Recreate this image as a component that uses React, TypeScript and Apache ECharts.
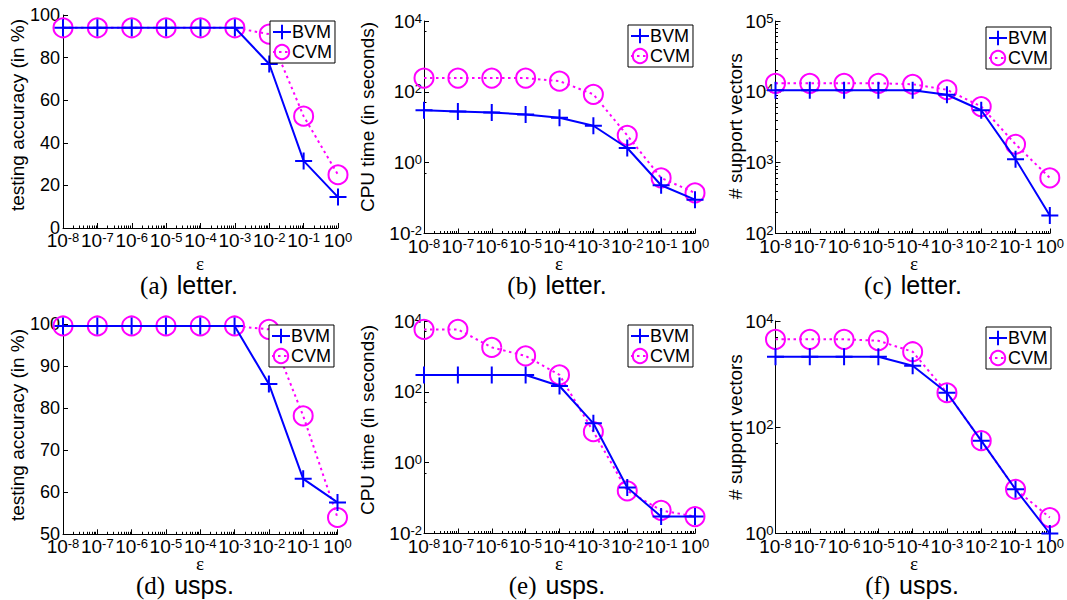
import React, { useEffect, useRef } from 'react';
import * as echarts from 'echarts';

const FONT = '"Liberation Sans", Arial, Helvetica, sans-serif';
const SERIF = '"Liberation Serif", "Times New Roman", serif';

// epsilon values (x axis, log scale)
const epsilons = [1e-8, 1e-7, 1e-6, 1e-5, 1e-4, 1e-3, 1e-2, 1e-1, 1];

// (a) letter: testing accuracy (%)
const accLetterBVM = [94, 94, 94, 94, 94, 94, 77, 31.5, 14.5];
const accLetterCVM = [94, 94, 94, 94, 94, 94, 91, 52.5, 25];
// (b) letter: CPU time (s)
const cpuLetterBVM = [30, 28, 26, 23, 18.6, 11, 2.6, 0.23, 0.09];
const cpuLetterCVM = [245, 245, 245, 245, 200, 85, 5.9, 0.37, 0.14];
// (c) letter: # support vectors
const svLetterBVM = [10500, 10500, 10500, 10500, 10500, 9100, 5500, 1120, 180];
const svLetterCVM = [13200, 13200, 13200, 13200, 12800, 10700, 6200, 1820, 610];
// (d) usps: testing accuracy (%)
const accUspsBVM = [99.6, 99.6, 99.6, 99.6, 99.6, 99.6, 85.8, 63.2, 57.6];
const accUspsCVM = [99.6, 99.6, 99.6, 99.6, 99.6, 99.6, 98.8, 78.2, 54.0];
// (e) usps: CPU time (s)
const cpuUspsBVM = [300, 300, 300, 300, 146, 12.9, 0.2, 0.03, 0.03];
const cpuUspsCVM = [5800, 5800, 1800, 1030, 300, 7.5, 0.16, 0.045, 0.03];
// (f) usps: # support vectors
const svUspsBVM = [2130, 2130, 2130, 2130, 1440, 446, 56, 6.8, 1.0];
const svUspsCVM = [4520, 4520, 4520, 4260, 2640, 446, 56, 6.8, 2.0];

const seriesNames = ['BVM', 'CVM'];
const yTitles = ['testing accuracy (in %)', 'CPU time (in seconds)', '# support vectors'];
const captionLetters = ['(a)', '(b)', '(c)', '(d)', '(e)', '(f)'];
const captionSets = ['letter.', 'letter.', 'letter.', 'usps.', 'usps.', 'usps.'];
const xTitle = 'ε';

type Panel = {
  grid: { left: number; top: number; width: number; height: number };
  log: boolean;
  yMin: number;
  yMax: number;
  yInterval: number;
  bvm: number[];
  cvm: number[];
  legend: { left: number; top: number };
  title: string;
  titleX: number;
  titleY: number;
  epsX: number;
  epsY: number;
  capX: number;
  capY: number;
};

const panels: Panel[] = [
  { grid: { left: 63, top: 15, width: 275, height: 213 }, log: false, yMin: 0, yMax: 100, yInterval: 20,
    bvm: accLetterBVM, cvm: accLetterCVM, legend: { left: 270, top: 21 }, title: yTitles[0],
    titleX: 17, titleY: 115, epsX: 200, epsY: 263, capX: 189, capY: 285 },
  { grid: { left: 424, top: 21, width: 271, height: 212.5 }, log: true, yMin: 1e-2, yMax: 1e4, yInterval: 2,
    bvm: cpuLetterBVM, cvm: cpuLetterCVM, legend: { left: 628, top: 25 }, title: yTitles[1],
    titleX: 367, titleY: 117, epsX: 559, epsY: 263, capX: 557, capY: 285 },
  { grid: { left: 775.5, top: 21, width: 278.5, height: 212.5 }, log: true, yMin: 1e2, yMax: 1e5, yInterval: 1,
    bvm: svLetterBVM, cvm: svLetterCVM, legend: { left: 986, top: 27 }, title: yTitles[2],
    titleX: 735, titleY: 126, epsX: 914, epsY: 263, capX: 913, capY: 285 },
  { grid: { left: 63, top: 324.3, width: 274.5, height: 210 }, log: false, yMin: 50, yMax: 100, yInterval: 10,
    bvm: accUspsBVM, cvm: accUspsCVM, legend: { left: 269, top: 325 }, title: yTitles[0],
    titleX: 17, titleY: 425, epsX: 200, epsY: 563, capX: 185, capY: 585 },
  { grid: { left: 424, top: 321, width: 271, height: 212.5 }, log: true, yMin: 1e-2, yMax: 1e4, yInterval: 2,
    bvm: cpuUspsBVM, cvm: cpuUspsCVM, legend: { left: 628, top: 325 }, title: yTitles[1],
    titleX: 367, titleY: 420, epsX: 559, epsY: 563, capX: 557, capY: 585 },
  { grid: { left: 775.5, top: 321, width: 278.5, height: 212.5 }, log: true, yMin: 1, yMax: 1e4, yInterval: 2,
    bvm: svUspsBVM, cvm: svUspsCVM, legend: { left: 986, top: 327 }, title: yTitles[2],
    titleX: 735, titleY: 427, epsX: 914, epsY: 563, capX: 912, capY: 585 },
];

const powRich = {
  b: { fontFamily: FONT, fontSize: 19, color: '#000', lineHeight: 19, verticalAlign: 'bottom' },
  s: { fontFamily: FONT, fontSize: 13, color: '#000', lineHeight: 13, verticalAlign: 'top', padding: [0, 0, 10, 0] },
};

const powFormatter = (v: number) => {
  const e = Math.round(Math.log10(v));
  return `{b|10}{s|${e}}`;
};

const PLUS = 'path://M5,0L5,10M0,5L10,5';

function buildOption() {
  const grid = panels.map((p) => ({ ...p.grid, containLabel: false }));
  const xAxis = panels.map((p, i) => ({
    type: 'log',
    logBase: 10,
    gridIndex: i,
    min: 1e-8,
    max: 1,
    interval: 1,
    axisLine: { show: true, onZero: false, lineStyle: { color: '#000', width: 1 } },
    axisTick: { show: true, inside: true, length: 5, lineStyle: { color: '#000' } },
    minorTick: { show: true, splitNumber: 9, length: 2.5, lineStyle: { color: '#000' } },
    splitLine: { show: false },
    minorSplitLine: { show: false },
    axisLabel: {
      margin: 3, formatter: powFormatter, rich: powRich, fontSize: 18, fontFamily: FONT, color: '#000',
      showMinLabel: true, showMaxLabel: true, hideOverlap: false,
    },
  }));
  const yAxis = panels.map((p, i) => ({
    type: p.log ? 'log' : 'value',
    logBase: 10,
    gridIndex: i,
    min: p.yMin,
    max: p.yMax,
    interval: p.yInterval,
    axisLine: { show: true, onZero: false, lineStyle: { color: '#000', width: 1 } },
    axisTick: { show: true, inside: true, length: 5, lineStyle: { color: '#000' } },
    minorTick: p.log ? { show: true, splitNumber: p.yInterval === 2 ? 2 : 9, length: 2.5, lineStyle: { color: '#000' } } : { show: false },
    splitLine: { show: false },
    axisLabel: p.log
      ? { margin: 2, formatter: powFormatter, rich: powRich, fontSize: 18, fontFamily: FONT, color: '#000', showMinLabel: true, showMaxLabel: true }
      : { margin: 3, fontFamily: FONT, fontSize: 18, color: '#000', showMinLabel: true, showMaxLabel: true },
  }));
  const series: any[] = [];
  panels.forEach((p, i) => {
    series.push({
      name: seriesNames[1],
      type: 'line',
      xAxisIndex: i,
      yAxisIndex: i,
      data: epsilons.map((e, k) => [e, p.cvm[k]]),
      symbol: 'circle',
      symbolSize: 19,
      clip: false,
      color: '#ff00ff',
      lineStyle: { color: '#ff00ff', width: 2, type: [2.5, 3.5] },
      itemStyle: { color: 'rgba(255,255,255,0)', borderColor: '#ff00ff', borderWidth: 2 },
      z: 2,
    });
    series.push({
      name: seriesNames[0],
      type: 'line',
      xAxisIndex: i,
      yAxisIndex: i,
      data: epsilons.map((e, k) => [e, p.bvm[k]]),
      symbol: PLUS,
      symbolSize: 17,
      clip: false,
      color: '#0000ff',
      lineStyle: { color: '#0000ff', width: 2 },
      itemStyle: { color: '#0000ff', borderColor: '#0000ff', borderWidth: 2 },
      z: 3,
    });
  });
  const legend = panels.map((p) => ({
    left: p.legend.left,
    top: p.legend.top,
    orient: 'vertical',
    data: seriesNames,
    selectedMode: false,
    backgroundColor: '#fff',
    borderColor: '#000',
    borderWidth: 1,
    borderRadius: 0,
    padding: [2, 3, 2, 2],
    itemGap: 2,
    itemWidth: 18,
    itemHeight: 18,
    textStyle: { fontFamily: FONT, fontSize: 18, color: '#000', padding: [0, 0, 0, -4] },
    z: 10,
  }));
  const graphic: any[] = [];
  panels.forEach((p, i) => {
    graphic.push({
      type: 'text',
      x: p.titleX,
      y: p.titleY,
      rotation: Math.PI / 2,
      style: { text: p.title, fontFamily: FONT, fontSize: 19, fill: '#000', align: 'center', verticalAlign: 'middle' },
    });
    graphic.push({
      type: 'text',
      x: p.epsX,
      y: p.epsY,
      style: { text: xTitle, fontFamily: SERIF, fontSize: 19, fill: '#000', align: 'center', verticalAlign: 'middle' },
    });
    graphic.push({
      type: 'text',
      x: p.capX,
      y: p.capY,
      style: {
        text: `{s|${captionLetters[i]}}{h|${captionSets[i]}}`,
        align: 'center',
        verticalAlign: 'middle',
        rich: {
          s: { fontFamily: SERIF, fontSize: 25, fill: '#000', padding: [0, 9, 0, 0] },
          h: { fontFamily: FONT, fontSize: 25, fill: '#000' },
        },
      },
    });
  });
  return {
    animation: false,
    backgroundColor: '#fff',
    grid,
    xAxis,
    yAxis,
    series,
    legend,
    graphic,
  };
}

export default function App() {
  const ref = useRef<HTMLDivElement>(null);
  useEffect(() => {
    if (!ref.current) return;
    const chart = echarts.init(ref.current, undefined, { renderer: 'svg' });
    chart.setOption(buildOption() as any);
    return () => chart.dispose();
  }, []);
  return (
    <div
      ref={ref}
      style={{ position: 'fixed', left: 0, top: 0, width: 1067, height: 600, background: '#fff' }}
    />
  );
}
